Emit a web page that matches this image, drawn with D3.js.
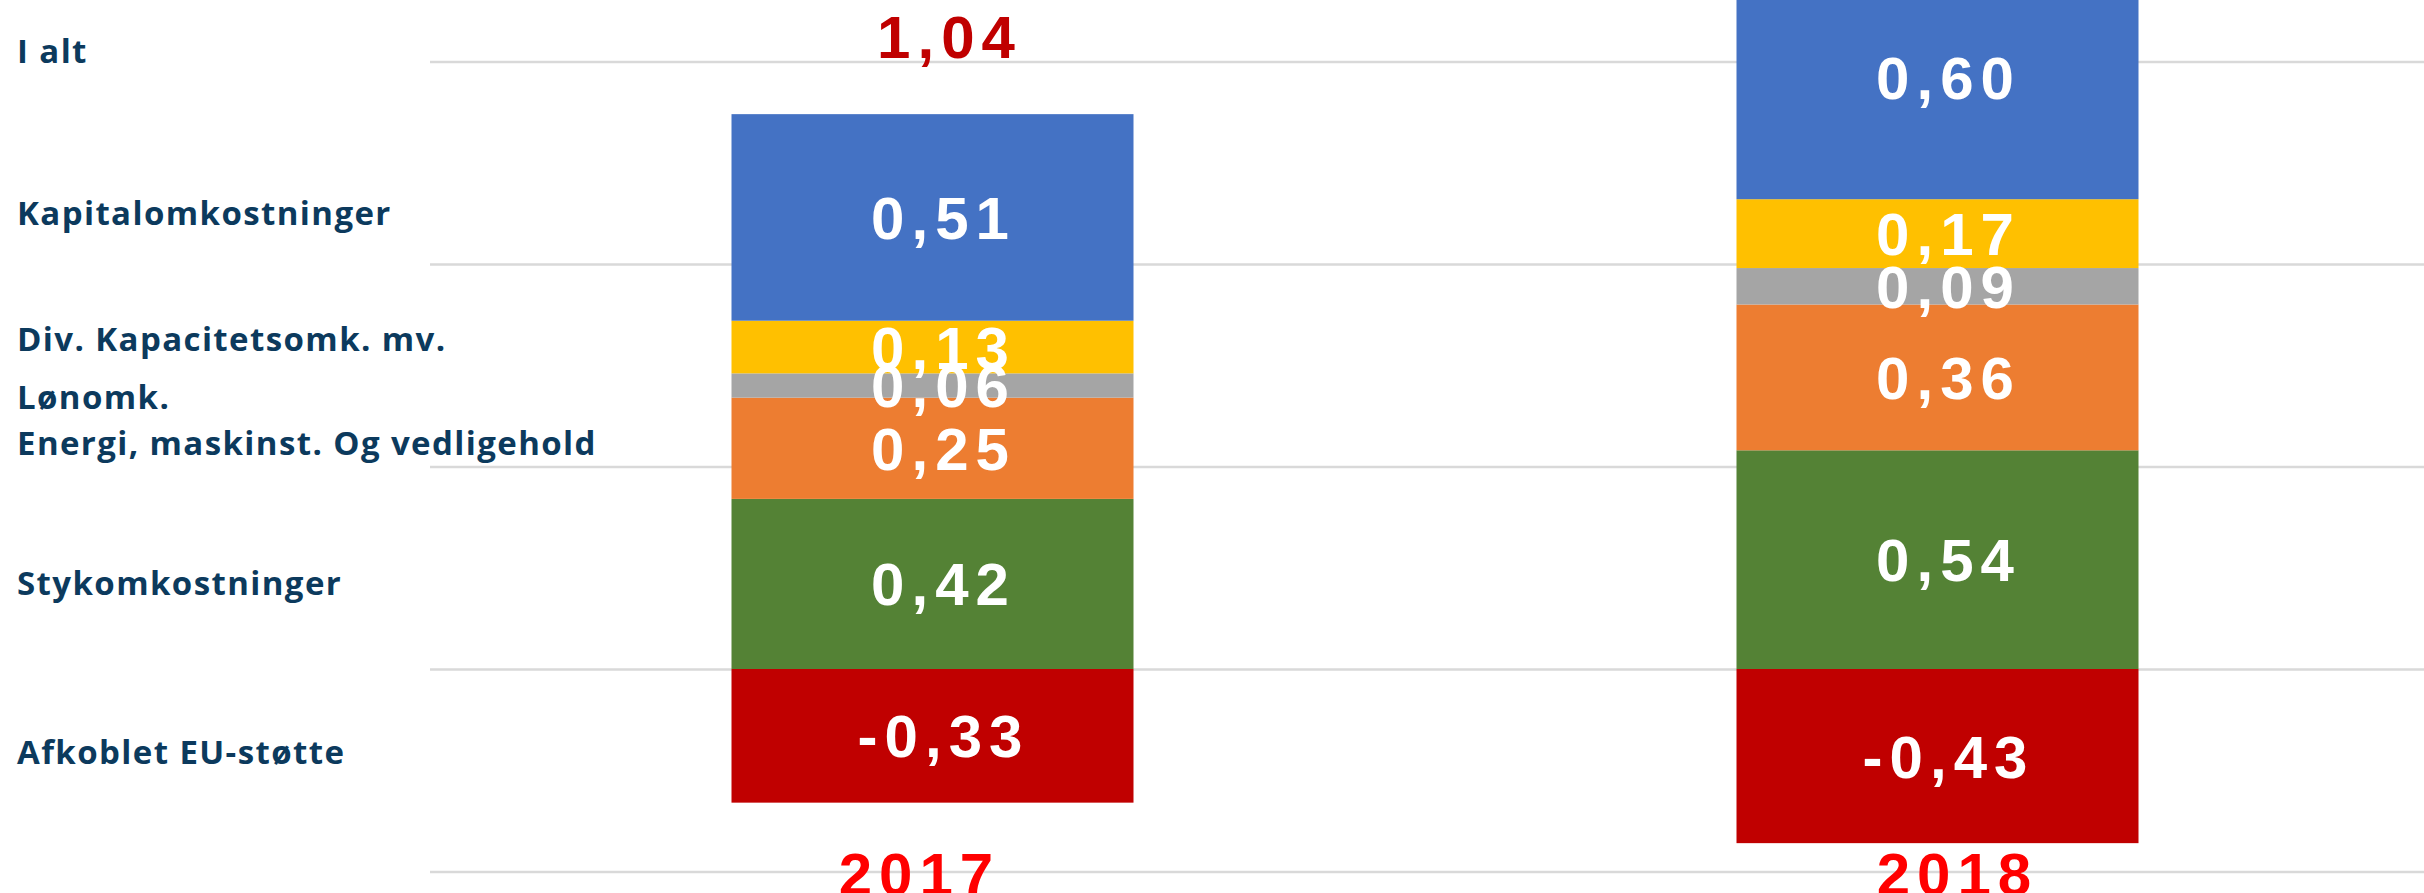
<!DOCTYPE html>
<html>
<head>
<meta charset="utf-8">
<script src="https://cdn.jsdelivr.net/npm/d3@7"></script>
<style>
  html, body { margin: 0; padding: 0; background: #ffffff; overflow: hidden; }
  svg { display: block; }
</style>
</head>
<body>
<svg id="chart"></svg>
<script>
// ---------- data ----------
const years = ["2017", "2018"];
const seriesKeys = ["afkoblet", "stykomk", "energi", "lon", "div", "kapital"];
const seriesNames = [
  "Afkoblet EU-støtte",
  "Stykomkostninger",
  "Energi, maskinst. Og vedligehold",
  "Lønomk.",
  "Div. Kapacitetsomk. mv.",
  "Kapitalomkostninger"
];
const afkoblet = [-0.33, -0.43];
const stykomk  = [0.42, 0.54];
const energi   = [0.25, 0.36];
const lon      = [0.06, 0.09];
const divKap   = [0.13, 0.17];
const kapital  = [0.51, 0.60];
const totalName = "I alt";
const gridTicks = [-0.5, 0, 0.5, 1.0, 1.5];

// ---------- layout / style ----------
const W = 2424, H = 893;
const plotLeft = 430;
const colors = {
  afkoblet: "#C00000", stykomk: "#548235", energi: "#ED7D31",
  lon: "#A5A5A5", div: "#FFC000", kapital: "#4472C4"
};
const labelFont = "'Liberation Sans', Arial, sans-serif";
const nameFont = "'Open Sans', 'Noto Sans', sans-serif";
const nameColor = "#0C3A5D";
// vertical nudges of the left-hand names relative to the 2017 segment centres
const nameNudge = { afkoblet: 16, stykomk: -1, energi: -5, lon: 12, div: -8, kapital: -4 };

const rows = years.map((yr, i) => ({
  year: yr,
  afkoblet: afkoblet[i], stykomk: stykomk[i], energi: energi[i],
  lon: lon[i], div: divKap[i], kapital: kapital[i]
}));

const svg = d3.select("#chart").attr("width", W).attr("height", H);

const x = d3.scaleBand().domain(years).range([plotLeft, 2440])
  .paddingInner(0.6).paddingOuter(0.3);
const y = d3.scaleLinear().domain([-0.5, 1.5]).range([871.5, 61.5]);

const locale = d3.formatLocale({ decimal: ",", thousands: ".", grouping: [3], currency: ["", " kr"], minus: "-" });
const fmt = locale.format(".2f");

// gridlines
const grid = svg.append("g").attr("transform", `translate(${plotLeft},0)`)
  .call(d3.axisLeft(y).tickValues(gridTicks).tickSize(-(W - plotLeft)).tickFormat(""));
grid.select(".domain").remove();
grid.selectAll(".tick line").attr("stroke", "#D9D9D9").attr("stroke-width", 2.5);

// stacked bars
const stack = d3.stack().keys(seriesKeys).offset(d3.stackOffsetDiverging);
const layers = stack(rows);

const layerG = svg.append("g").selectAll("g").data(layers).join("g")
  .attr("fill", d => colors[d.key]);
layerG.selectAll("rect").data(d => d).join("rect")
  .attr("x", d => x(d.data.year))
  .attr("width", x.bandwidth())
  .attr("y", d => y(Math.max(d[0], d[1])))
  .attr("height", d => Math.abs(y(d[0]) - y(d[1])));

// value labels
const capHalf = 0.358 * 60;
const lblG = svg.append("g");
layers.forEach(layer => {
  layer.forEach(d => {
    const v = d.data[layer.key];
    lblG.append("text")
      .attr("x", x(d.data.year) + x.bandwidth() / 2 + 11)
      .attr("y", y((d[0] + d[1]) / 2) + capHalf)
      .attr("text-anchor", "middle")
      .attr("font-family", labelFont)
      .attr("font-weight", "bold")
      .attr("font-size", 60)
      .attr("letter-spacing", 7)
      .attr("fill", "#ffffff")
      .text(fmt(v));
  });
});

// totals above stacks
const posTop = rows.map(r => seriesKeys.reduce((s, k) => s + Math.max(0, r[k]), 0));
const netTotal = rows.map(r => seriesKeys.reduce((s, k) => s + r[k], 0));
years.forEach((yr, i) => {
  svg.append("text")
    .attr("x", x(yr) + x.bandwidth() / 2 + 17)
    .attr("y", y(posTop[i]) - 56)
    .attr("text-anchor", "middle")
    .attr("font-family", labelFont)
    .attr("font-weight", "bold")
    .attr("font-size", 60)
    .attr("letter-spacing", 7)
    .attr("fill", "#C00000")
    .text(fmt(netTotal[i]));
});

// year labels
years.forEach((yr, i) => {
  svg.append("text")
    .attr("x", x(yr) + x.bandwidth() / 2 + (i === 0 ? -13 : 20))
    .attr("y", 895)
    .attr("text-anchor", "middle")
    .attr("font-family", labelFont)
    .attr("font-weight", "bold")
    .attr("font-size", 60)
    .attr("letter-spacing", 7)
    .attr("fill", "#FF0000")
    .text(yr);
});

// left-hand names, aligned to 2017 segments
const first = layers.map(l => ({ key: l.key, seg: l[0] }));
first.forEach((f, i) => {
  svg.append("text")
    .attr("x", 17)
    .attr("y", y((f.seg[0] + f.seg[1]) / 2) + 11.8 + nameNudge[f.key])
    .attr("font-family", nameFont)
    .attr("font-weight", 700)
    .attr("font-size", 33)
    .attr("letter-spacing", 1.4)
    .attr("fill", nameColor)
    .text(seriesNames[i]);
});
svg.append("text")
  .attr("x", 17)
  .attr("y", y(posTop[0]) - 56 + 5)
  .attr("font-family", nameFont)
  .attr("font-weight", 700)
  .attr("font-size", 33)
  .attr("letter-spacing", 1.4)
  .attr("fill", nameColor)
  .text(totalName);
</script>
</body>
</html>
